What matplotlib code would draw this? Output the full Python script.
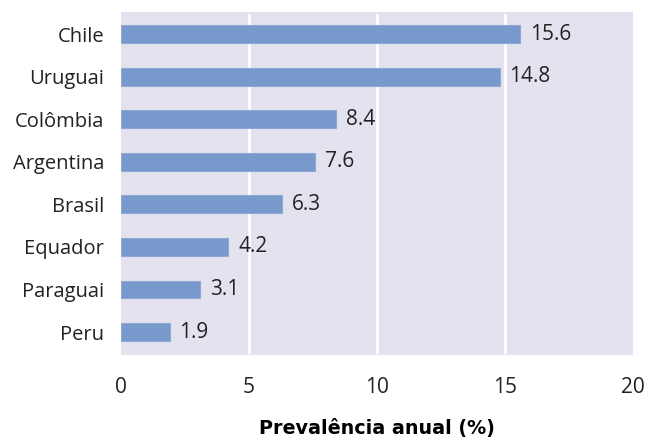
import matplotlib
matplotlib.use("Agg")
import matplotlib.pyplot as plt

countries = ["Peru", "Paraguai", "Equador", "Brasil", "Argentina", "Colômbia", "Uruguai", "Chile"]
prevalence = [1.9, 3.1, 4.2, 6.3, 7.6, 8.4, 14.8, 15.6]
xticks = [0, 5, 10, 15, 20]

plt.rcParams["font.family"] = ["Open Sans", "DejaVu Sans"]

fig = plt.figure(figsize=(6.45, 4.37), dpi=100)
ax = fig.add_axes([0.1876, 0.1876, 0.7935, 0.785])
ax.set_facecolor("#e4e2ee")

for x in xticks[1:-1]:
    ax.axvline(x, ymin=0.01, ymax=0.99, color="white", lw=2, zorder=1)

y = range(len(countries))
ax.barh(y, prevalence, height=0.42, color="#7799cc", edgecolor="#8fa9d6",
        linewidth=0.8, zorder=2)
for yi, v in zip(y, prevalence):
    ax.annotate(f"{v}", (v, yi), xytext=(7, 0), textcoords="offset points",
                va="center", ha="left", fontsize=15, color="#222222")

ax.set_xlim(0, 20)
ax.set_ylim(-0.54, 7.52)
ax.set_xticks(xticks)
ax.set_xticklabels([str(t) for t in xticks], fontsize=15, color="#222222")
ax.set_yticks(list(y))
ax.set_yticklabels(countries, fontsize=14.5, color="#222222")
ax.tick_params(axis="x", length=0, pad=16)
ax.tick_params(axis="y", length=0, pad=12)
for s in ax.spines.values():
    s.set_visible(False)

ax.set_xlabel("Prevalência anual (%)", fontsize=13.8, fontweight="bold",
              family="DejaVu Sans", labelpad=15)

fig.savefig("out.png", dpi=100)
